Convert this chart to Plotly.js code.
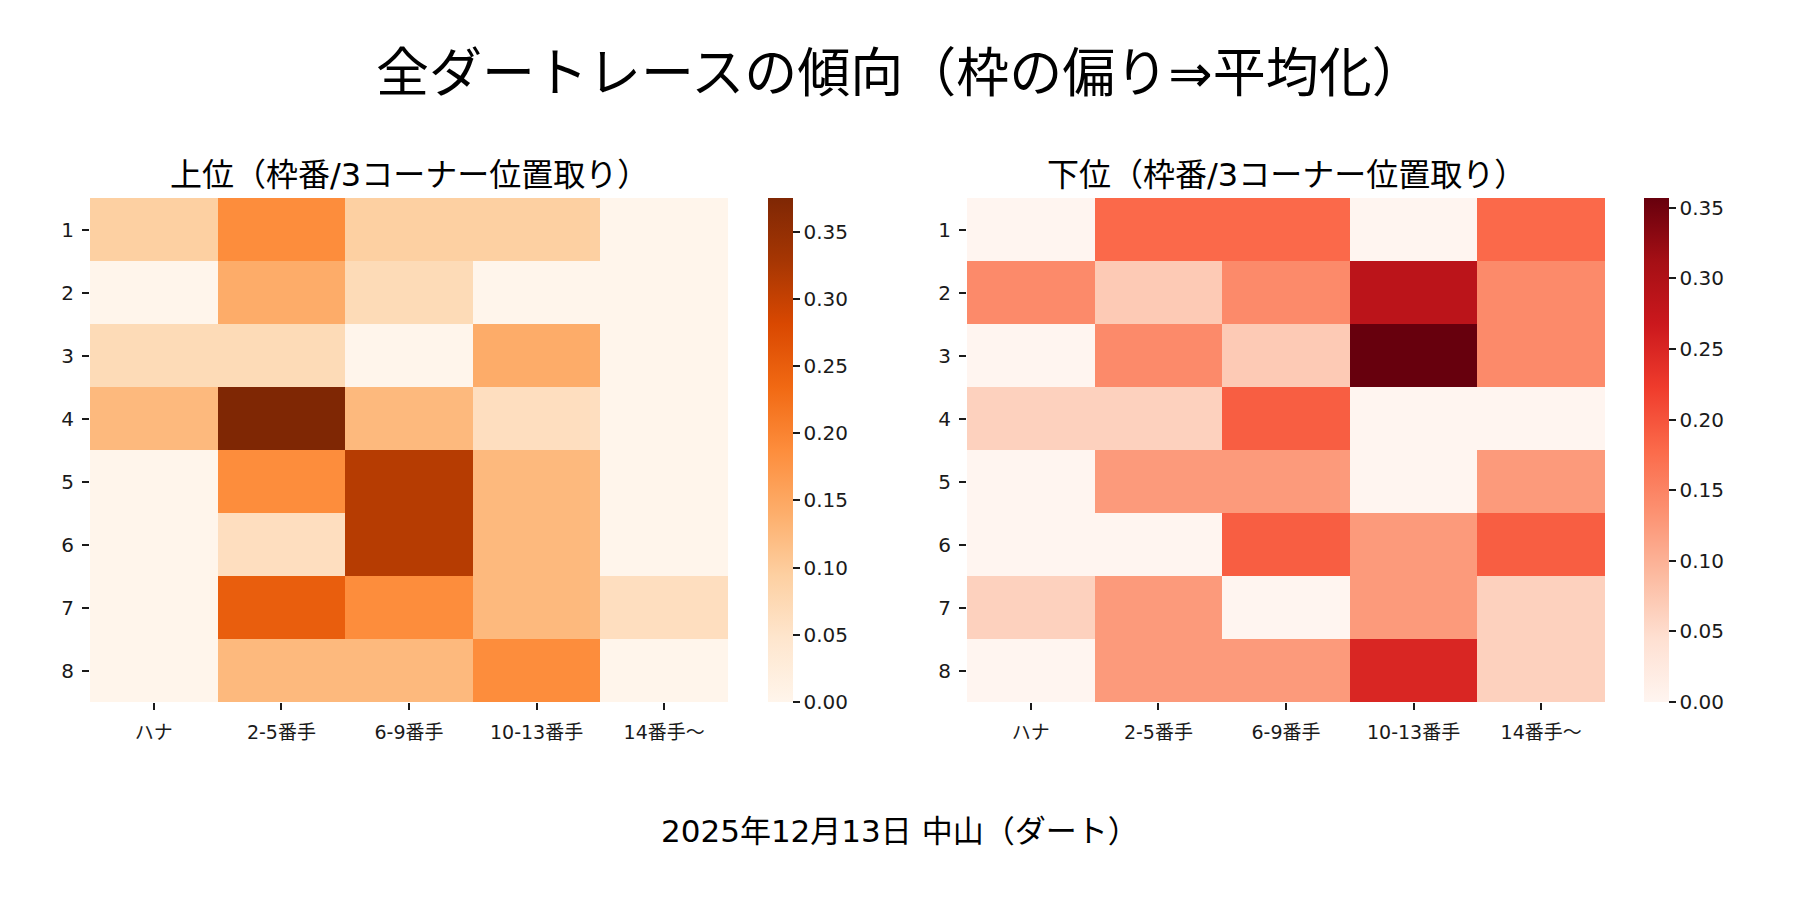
<!DOCTYPE html>
<html>
<head>
<meta charset="utf-8">
<script src="https://cdn.plot.ly/plotly-3.0.1.min.js"></script>
<style>
  html, body { margin: 0; padding: 0; background: #fff; }
  #plot { width: 1800px; height: 900px; }
</style>
</head>
<body>
<div id="plot"></div>
<script>
// 位置取りのカテゴリと枠番
const positions = ["ハナ", "2-5番手", "6-9番手", "10-13番手", "14番手〜"];
const gates = ["1", "2", "3", "4", "5", "6", "7", "8"];

// 上位（枠番 x 3コーナー位置取り）
const topRates = [
    [0.094, 0.188, 0.094, 0.094, 0],
    [0, 0.143, 0.071, 0, 0],
    [0.071, 0.071, 0, 0.143, 0],
    [0.125, 0.375, 0.125, 0.063, 0],
    [0, 0.188, 0.313, 0.125, 0],
    [0, 0.063, 0.313, 0.125, 0],
    [0, 0.25, 0.188, 0.125, 0.063],
    [0, 0.125, 0.125, 0.188, 0]
];

// 下位
const bottomRates = [
    [0, 0.179, 0.179, 0, 0.179],
    [0.143, 0.071, 0.143, 0.286, 0.143],
    [0, 0.143, 0.071, 0.357, 0.143],
    [0.063, 0.063, 0.19, 0, 0],
    [0, 0.125, 0.125, 0, 0.125],
    [0, 0, 0.19, 0.125, 0.19],
    [0.063, 0.125, 0, 0.125, 0.063],
    [0, 0.125, 0.125, 0.25, 0.063]
];

const cbTicks = [0, 0.05, 0.10, 0.15, 0.20, 0.25, 0.30, 0.35];

// matplotlib の Oranges / Reds に近い色
const orangeHex = ["#fff5eb", "#fee6ce", "#fdd0a2", "#fdae6b", "#fd8d3c", "#f16913", "#d94801", "#a63603", "#7f2704"];
const redHex = ["#fff5f0", "#fee0d2", "#fcbba1", "#fc9272", "#fb6a4a", "#ef3b2c", "#cb181d", "#a50f15", "#67000d"];

function toScale(hexList) {
    return hexList.map((c, i) => [i / (hexList.length - 1), c]);
}

function maxOf(rows) {
    return Math.max(...rows.map(r => Math.max(...r)));
}

const FONT = "DejaVu Sans, Noto Sans CJK JP, sans-serif";
const INK = "#1a1a1a";

function colorbarFor(xPos) {
    return {
        x: xPos, xanchor: "left", xref: "paper",
        y: 0.5, yanchor: "middle",
        thickness: 25, thicknessmode: "pixels",
        len: 504, lenmode: "pixels",
        outlinewidth: 0,
        xpad: 0, ypad: 0,
        ticks: "outside", ticklen: 7, tickwidth: 1.5, tickcolor: INK,
        tickvals: cbTicks,
        ticktext: cbTicks.map(v => v.toFixed(2)),
        tickfont: { family: FONT, size: 20, color: INK }
    };
}

const data = [
    {
        type: "heatmap",
        x: positions, y: gates, z: topRates,
        xaxis: "x", yaxis: "y",
        zmin: 0, zmax: maxOf(topRates),
        colorscale: toScale(orangeHex),
        colorbar: colorbarFor(768 / 1800),
        xgap: 0, ygap: 0,
        hoverinfo: "x+y+z"
    },
    {
        type: "heatmap",
        x: positions, y: gates, z: bottomRates,
        xaxis: "x2", yaxis: "y2",
        zmin: 0, zmax: maxOf(bottomRates),
        colorscale: toScale(redHex),
        colorbar: colorbarFor(1644 / 1800),
        xgap: 0, ygap: 0,
        hoverinfo: "x+y+z"
    }
];

function xAxis(domain, anchor) {
    return {
        domain: domain, anchor: anchor, type: "category",
        showgrid: false, zeroline: false, showline: false,
        ticks: "outside", ticklen: 7, tickwidth: 1.5, tickcolor: INK,
        ticklabelstandoff: 6,
        tickfont: { family: FONT, size: 19, color: INK },
        fixedrange: true
    };
}

function yAxis(domain, anchor) {
    return {
        domain: domain, anchor: anchor, type: "category",
        autorange: "reversed",
        showgrid: false, zeroline: false, showline: false,
        ticks: "outside", ticklen: 7, tickwidth: 1.5, tickcolor: INK,
        ticklabelstandoff: 4,
        tickfont: { family: FONT, size: 20, color: INK },
        fixedrange: true
    };
}

const yDom = [1 - 702 / 900, 1 - 198 / 900];

const layout = {
    width: 1800, height: 900,
    margin: { l: 0, r: 0, t: 0, b: 0 },
    paper_bgcolor: "#ffffff",
    plot_bgcolor: "#ffffff",
    font: { family: FONT, color: INK },
    showlegend: false,
    xaxis: xAxis([90 / 1800, 728 / 1800], "y"),
    yaxis: yAxis(yDom, "x"),
    xaxis2: xAxis([967 / 1800, 1605 / 1800], "y2"),
    yaxis2: yAxis(yDom, "x2"),
    annotations: [
        {
            text: "全ダートレースの傾向（枠の偏り⇒平均化）",
            x: 0.5, y: 1 - 74 / 900, xref: "paper", yref: "paper",
            xanchor: "center", yanchor: "middle", showarrow: false,
            font: { family: FONT, size: 53, color: "#000" }
        },
        {
            text: "上位（枠番/3コーナー位置取り）",
            x: 409 / 1800, y: 1 - 175 / 900, xref: "paper", yref: "paper",
            xanchor: "center", yanchor: "middle", showarrow: false,
            font: { family: FONT, size: 32, color: "#000" }
        },
        {
            text: "下位（枠番/3コーナー位置取り）",
            x: 1286 / 1800, y: 1 - 175 / 900, xref: "paper", yref: "paper",
            xanchor: "center", yanchor: "middle", showarrow: false,
            font: { family: FONT, size: 32, color: "#000" }
        },
        {
            text: "2025年12月13日 中山（ダート）",
            x: 0.5, y: 1 - 831 / 900, xref: "paper", yref: "paper",
            xanchor: "center", yanchor: "middle", showarrow: false,
            font: { family: FONT, size: 31, color: "#000" }
        }
    ]
};

Plotly.newPlot("plot", data, layout, { displayModeBar: false, responsive: false });
</script>
</body>
</html>
